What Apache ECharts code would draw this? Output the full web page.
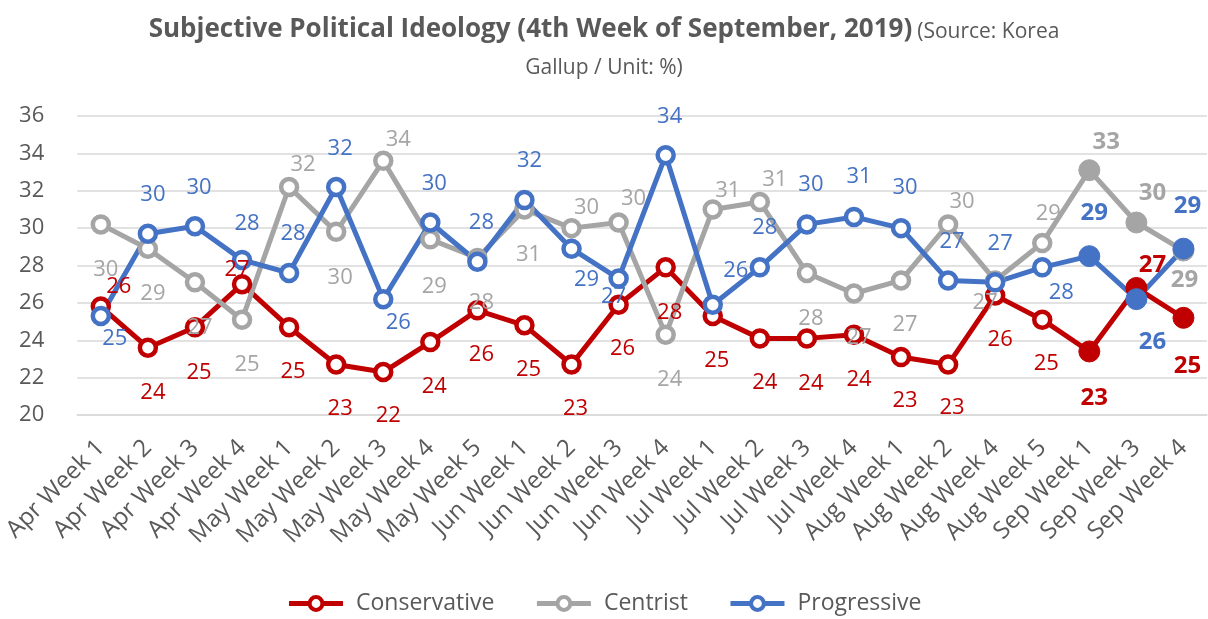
<!DOCTYPE html>
<html>
<head>
<meta charset="utf-8">
<script src="https://cdn.jsdelivr.net/npm/echarts@6/dist/echarts.min.js"></script>
<style>
html,body{margin:0;padding:0;background:#fff;}
#chart{width:1208px;height:619px;}
</style>
</head>
<body>
<div id="chart"></div>
<script>
const categories = ['Apr Week 1','Apr Week 2','Apr Week 3','Apr Week 4','May Week 1','May Week 2','May Week 3','May Week 4','May Week 5','Jun Week 1','Jun Week 2','Jun Week 3','Jun Week 4','Jul Week 1','Jul Week 2','Jul Week 3','Jul Week 4','Aug Week 1','Aug Week 2','Aug Week 4','Aug Week 5','Sep Week 1','Sep Week 3','Sep Week 4'];
const conservative = [25.8,23.6,24.7,27.0,24.7,22.7,22.3,23.9,25.6,24.8,22.7,25.9,27.9,25.3,24.1,24.1,24.3,23.1,22.7,26.4,25.1,23.4,26.8,25.2];
const centrist = [30.2,28.9,27.1,25.1,32.2,29.8,33.6,29.4,28.4,31.0,30.0,30.3,24.3,31.0,31.4,27.6,26.5,27.2,30.2,27.2,29.2,33.1,30.3,28.8];
const progressive = [25.3,29.7,30.1,28.3,27.6,32.2,26.2,30.3,28.2,31.5,28.9,27.3,33.9,25.9,27.9,30.2,30.6,30.0,27.2,27.1,27.9,28.5,26.2,28.9];
const yTicks = [20,22,24,26,28,30,32,34,36];

// label placement (pixel offsets from each marker)
const consLabelOffset = [[18,-20],[5,45],[4,46],[-5,-14],[4,45],[4,44],[5,44],[4,45],[4,44],[4,44],[4,44],[4,44],[4,45],[4,45],[5,44],[4,45],[5,45],[4,44],[4,43],[5,44],[4,44],[5,47],[16,-23],[4,48]];
const centLabelOffset = [[5,45],[5,45],[5,45],[5,45],[14,-22],[4,46],[15,-21],[4,47],[4,45],[4,45],[15,-20],[15,-24],[4,45],[15,-19],[15,-22],[4,46],[5,44],[4,44],[14,-23],[-10,22],[6,-29],[17,-28],[16,-29],[1,30]];
const progLabelOffset = [[14,23],[5,-39],[4,-39],[5,-36],[4,-39],[4,-38],[15,24],[4,-39],[4,-39],[5,-39],[15,31],[-5,18],[4,-39],[23,-34],[5,-40],[4,-40],[5,-40],[4,-40],[4,-39],[5,-39],[19,25],[5,-43],[16,43],[4,-43]];
const highlightFrom = 21; // last three weeks emphasised

const FONT = 'Open Sans';
const TXT = '#595959';

function buildSeries(name, values, offsets, color) {
  return {
    name: name,
    type: 'line',
    symbol: 'circle',
    symbolSize: 16,
    lineStyle: { width: 5, color: color },
    itemStyle: { color: '#fff', borderColor: color, borderWidth: 4.5 },
    label: {
      show: true, position: 'inside', color: color, fontSize: 22, fontFamily: FONT,
      formatter: p => Math.round(p.value)
    },
    data: values.map((v, i) => {
      const d = { value: v, label: { offset: offsets[i] } };
      if (i >= highlightFrom) {
        d.symbolSize = 21;
        d.itemStyle = { color: color, borderColor: color, borderWidth: 1 };
        d.label.fontWeight = 'bold';
        d.label.fontSize = 24;
      }
      return d;
    })
  };
}

const chart = echarts.init(document.getElementById('chart'));
chart.setOption({
  animation: false,
  backgroundColor: '#fff',
  color: ['#C00000', '#A5A5A5', '#4472C4'],
  title: [
    {
      left: 'center', top: 2,
      text: '{b|Subjective Political Ideology (4th Week of September, 2019)} {s|(Source: Korea}',
      textStyle: { fontWeight: 'normal', rich: {
        b: { fontSize: 26, fontWeight: 'bold', color: TXT, fontFamily: FONT, lineHeight: 36, verticalAlign: 'bottom' },
        s: { fontSize: 21, fontWeight: 'normal', color: TXT, fontFamily: FONT, lineHeight: 36, verticalAlign: 'bottom' }
      } }
    },
    {
      left: 'center', top: 53,
      text: 'Gallup / Unit: %)',
      textStyle: { fontSize: 21, fontWeight: 'normal', color: TXT, fontFamily: FONT }
    }
  ],
  legend: {
    bottom: -1, left: 'center',
    itemWidth: 54, itemHeight: 16, itemGap: 40,
    lineStyle: { width: 5 },
    itemStyle: { borderWidth: 4 },
    textStyle: { fontSize: 23, color: TXT, fontFamily: FONT, padding: [0, 0, 0, 8] },
    data: ['Conservative', 'Centrist', 'Progressive']
  },
  grid: { left: 77, right: 1, top: 116, bottom: 204, containLabel: false },
  xAxis: {
    type: 'category', data: categories, boundaryGap: true,
    axisTick: { show: false },
    axisLine: { show: true, lineStyle: { color: '#D9D9D9', width: 1.5 } },
    axisLabel: { interval: 0, rotate: 45, fontSize: 24, color: TXT, fontFamily: FONT, margin: 29 }
  },
  yAxis: {
    type: 'value', min: yTicks[0], max: yTicks[yTicks.length - 1], interval: 2,
    axisLine: { show: false }, axisTick: { show: false },
    splitLine: { lineStyle: { color: '#D9D9D9', width: 1.5 } },
    axisLabel: { fontSize: 22, color: TXT, fontFamily: FONT, margin: 33 }
  },
  series: [
    buildSeries('Conservative', conservative, consLabelOffset, '#C00000'),
    buildSeries('Centrist', centrist, centLabelOffset, '#A5A5A5'),
    buildSeries('Progressive', progressive, progLabelOffset, '#4472C4')
  ]
});
</script>
</body>
</html>
